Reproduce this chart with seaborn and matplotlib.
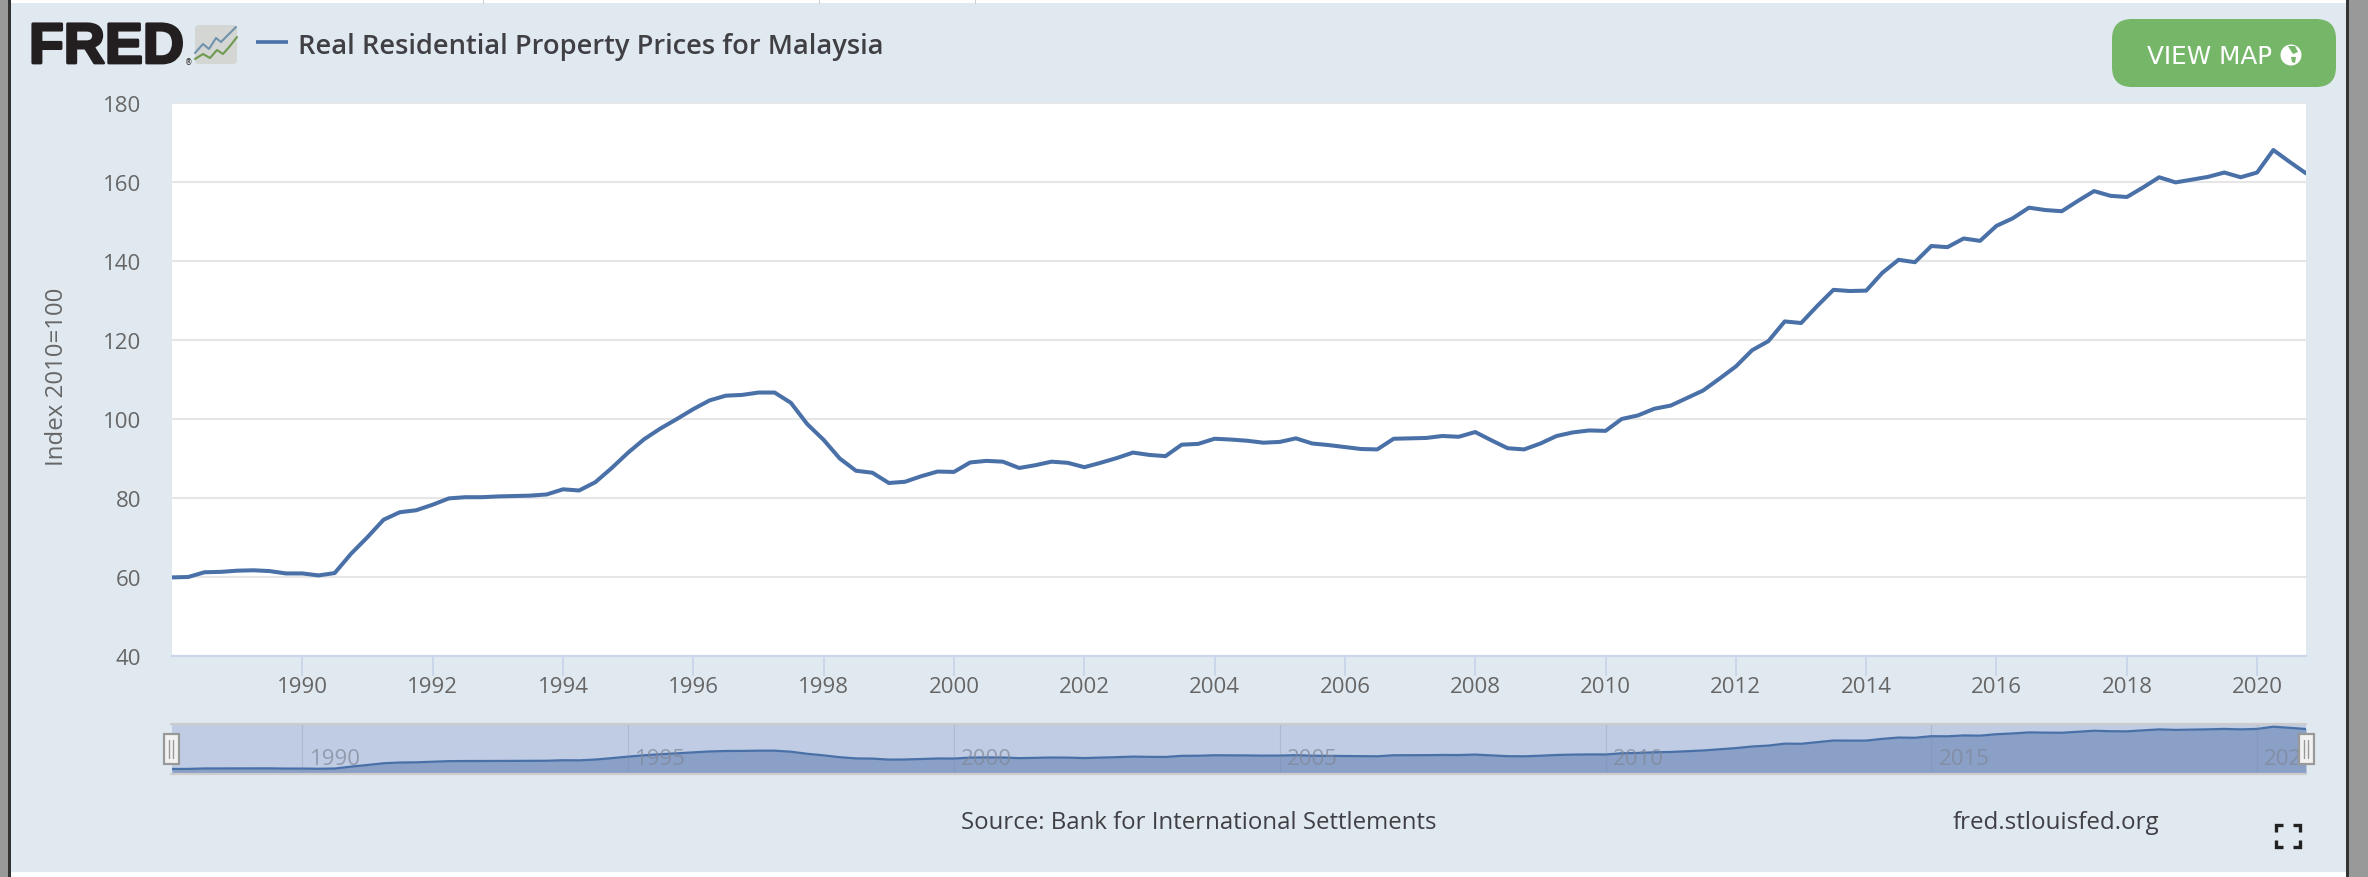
import pandas as pd
import numpy as np
import matplotlib
matplotlib.use('Agg')
import matplotlib.pyplot as plt
import matplotlib.patheffects as pe
from matplotlib.patches import FancyBboxPatch, Rectangle, Circle, Polygon
import seaborn as sns

# Quarterly index, 1988 Q1 to 2020 Q4
first_quarter = '1988-01-01'
index_values = [
    59.9, 60.0, 61.2, 61.3, 61.6, 61.7, 61.5, 60.9,
    60.9, 60.4, 61.0, 65.9, 70.1, 74.5, 76.4, 76.9,
    78.3, 79.9, 80.2, 80.2, 80.4, 80.5, 80.6, 80.9,
    82.2, 81.9, 84.0, 87.6, 91.5, 94.9, 97.6, 100.0,
    102.5, 104.7, 105.9, 106.1, 106.7, 106.7, 104.1, 98.7,
    94.7, 90.0, 86.9, 86.4, 83.8, 84.1, 85.5, 86.7,
    86.6, 89.0, 89.4, 89.2, 87.6, 88.3, 89.2, 88.9,
    87.8, 88.9, 90.1, 91.5, 90.9, 90.6, 93.5, 93.7,
    95.0, 94.8, 94.5, 94.0, 94.2, 95.1, 93.8, 93.4,
    92.9, 92.4, 92.3, 95.0, 95.1, 95.2, 95.7, 95.5,
    96.7, 94.6, 92.6, 92.3, 93.8, 95.7, 96.6, 97.1,
    97.0, 100.0, 100.9, 102.6, 103.4, 105.3, 107.2, 110.2,
    113.3, 117.4, 119.7, 124.7, 124.3, 128.6, 132.7, 132.4,
    132.5, 137.0, 140.3, 139.7, 143.8, 143.5, 145.7, 145.1,
    148.9, 150.8, 153.5, 152.9, 152.6, 155.2, 157.7, 156.5,
    156.2, 158.6, 161.2, 159.9, 160.6, 161.3, 162.4, 161.2,
    162.4, 168.1, 165.1, 162.2,
]
y_ticks = [40, 60, 80, 100, 120, 140, 160, 180]
x_tick_years = [1990, 1992, 1994, 1996, 1998, 2000, 2002, 2004, 2006, 2008,
                2010, 2012, 2014, 2016, 2018, 2020]
nav_tick_years = [1990, 1995, 2000, 2005, 2010, 2015, 2020]

W, H = 2368, 878
PANEL = '#e1e9f0'
LINE = '#4a70a8'
TEXT = '#3f3f44'
TICK = '#666666'

df = pd.DataFrame({
    'date': pd.date_range(first_quarter, periods=len(index_values), freq='QS'),
    'value': index_values,
})

sns.set_theme(style='white')
plt.rcParams['font.family'] = ['Open Sans', 'DejaVu Sans']


def px_axes(fig, left, top, right, bottom, **kw):
    # axes placed with pixel edges measured from the top left
    return fig.add_axes([left / W, 1 - bottom / H, (right - left) / W, (bottom - top) / H], **kw)


fig = plt.figure(figsize=(W / 100, H / 100), dpi=100, facecolor=PANEL)

# main chart
ax = px_axes(fig, 172, 104, 2306, 657, facecolor='white')
sns.lineplot(data=df, x='date', y='value', ax=ax, color=LINE, linewidth=2.9)
ax.set_xlim(df['date'].iloc[0], df['date'].iloc[-1])
ax.set_ylim(40, 180)
ax.set_yticks(y_ticks)
ax.set_xticks([pd.Timestamp(f'{y}-01-01') for y in x_tick_years])
ax.set_xticklabels([str(y) for y in x_tick_years])
ax.grid(axis='y', color='#e6e6e6', linewidth=1.5)
ax.set_axisbelow(True)
for s in ['top', 'left', 'right']:
    ax.spines[s].set_visible(False)
ax.spines['bottom'].set_color('#ccd6eb')
ax.spines['bottom'].set_linewidth(1.6)
ax.tick_params(axis='x', length=14.4, width=1.4, color='#ccd6eb', labelcolor=TICK,
               labelsize=16, pad=0, bottom=True)
ax.tick_params(axis='y', length=0, labelcolor=TICK, labelsize=16, pad=22)
ax.set_xlabel('')
ax.set_ylabel('')

# navigator
nav = px_axes(fig, 172, 725, 2306, 775, facecolor='#bfcce3')
nav.fill_between(df['date'], df['value'], 40, color='#8aa0c6', linewidth=0)
sns.lineplot(data=df, x='date', y='value', ax=nav, color=LINE, linewidth=1.6)
nav.set_xlim(df['date'].iloc[0], df['date'].iloc[-1])
nav.set_ylim(47, 175)
nav.set_yticks([])
nav.set_xlabel('')
nav.set_ylabel('')
nav.set_xticks([pd.Timestamp(f'{y}-01-01') for y in nav_tick_years])
nav.grid(axis='x', color='#7f8797', linewidth=0.8, alpha=0.25)
nav.set_axisbelow(False)
nav.tick_params(axis='x', length=0, labelbottom=False)
for s in nav.spines.values():
    s.set_visible(False)
for yr in nav_tick_years:
    nav.text(pd.Timestamp(f'{yr}-01-01') + pd.Timedelta(days=40), 0.30, str(yr),
             transform=nav.get_xaxis_transform(), fontsize=16, color='#7f8797', alpha=0.7,
             va='center', ha='left', clip_on=True)

# everything else is page furniture, drawn in pixel coordinates
ov = fig.add_axes([0, 0, 1, 1], zorder=10)
ov.set_xlim(0, W)
ov.set_ylim(H, 0)
ov.axis('off')

# page edges around the panel
ov.add_patch(Rectangle((0, 0), W, 4, color='white', lw=0))
ov.add_patch(Rectangle((0, 873), W, 5, color='white', lw=0))
for x in [483, 819, 975]:
    ov.plot([x, x], [0, 4], color='#cfcfcf', lw=0.8)
ov.add_patch(Rectangle((0, 0), 8, H, color='#999999', lw=0))
ov.add_patch(Rectangle((8, 0), 3, H, color='#333333', lw=0))
ov.add_patch(Rectangle((2346, 0), 3, H, color='#333333', lw=0))
ov.add_patch(Rectangle((2349, 0), W - 2349, H, color='#999999', lw=0))

# navigator outline and handles
ov.plot([171, 2306], [725, 725], color='#cccccc', lw=1.6)
ov.plot([171, 2306], [775, 775], color='#cccccc', lw=1.6)
for cx in [171, 2306]:
    ov.add_patch(Rectangle((cx - 7.5, 735), 15, 30, facecolor='#f2f2f2', edgecolor='#999999', lw=1.6))
    ov.plot([cx - 2, cx - 2], [741, 759], color='#999999', lw=1)
    ov.plot([cx + 2, cx + 2], [741, 759], color='#999999', lw=1)

# logo
ov.text(29, 49, 'FRED', family='Liberation Sans', weight='bold', fontsize=41, color='#231f20',
        va='center', ha='left', path_effects=[pe.withStroke(linewidth=2, foreground='#231f20')])
ov.text(189, 63, '®', family='DejaVu Sans', fontsize=5.5, color='#231f20', ha='center', va='center')
ov.add_patch(FancyBboxPatch((197, 28), 38, 35, boxstyle='round,pad=2,rounding_size=4',
                            facecolor='#d4d6d3', edgecolor='none'))
ov.plot([195, 203, 209, 216, 221, 228, 236], [54, 45, 50, 39, 43, 36, 28], color='#6f93ad', lw=1.5)
ov.plot([195, 203, 210, 217, 223, 230, 237], [60, 55, 59, 51, 55, 47, 38], color='#6f9a4f', lw=1.5)

# legend
ov.plot([256, 288], [43, 43], color=LINE, lw=2.6, solid_capstyle='butt')
ov.text(298, 47, 'Real Residential Property Prices for Malaysia', fontsize=19.6, color=TEXT,
        va='center', ha='left', weight='semibold')

# map button
ov.add_patch(FancyBboxPatch((2132, 40), 184, 28, boxstyle='round,pad=20,rounding_size=20',
                            facecolor='#75b669', edgecolor='none'))
ov.text(2147, 56.5, 'VIEW MAP', family='DejaVu Sans', fontsize=17.8, color='white', va='center', ha='left')
ov.add_patch(Circle((2291, 56), 10.5, color='white', lw=0))
ov.add_patch(Polygon([(2288, 47), (2295, 47), (2298, 53), (2293, 55), (2291, 52)], color='#75b669', lw=0))
ov.add_patch(Polygon([(2291, 58), (2296, 58), (2295, 64), (2292, 63)], color='#75b669', lw=0))

# axis title, source, site
ov.text(57, 377, 'Index 2010=100', rotation=90, fontsize=17.3, color=TICK, va='center', ha='center')
ov.text(1199, 823, 'Source: Bank for International Settlements', fontsize=17.3, color=TEXT, va='center', ha='center')
ov.text(1953, 823, 'fred.stlouisfed.org', fontsize=17.4, color=TEXT, va='center', ha='left')

# fullscreen icon
for cx, cy, sx, sy in [(2276, 826, 1, 1), (2300, 826, -1, 1), (2276, 848, 1, -1), (2300, 848, -1, -1)]:
    ov.plot([cx + 7 * sx, cx, cx], [cy, cy, cy + 7 * sy], color='#222222', lw=2.4,
            solid_joinstyle='miter', solid_capstyle='butt')

fig.savefig('out.png', dpi=100, facecolor=PANEL)
